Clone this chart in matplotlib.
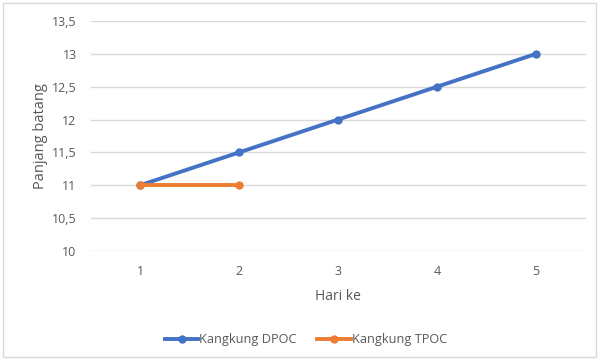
import matplotlib.pyplot as plt
from matplotlib.ticker import FuncFormatter, MultipleLocator
from matplotlib.patches import Rectangle

hari = [1, 2, 3, 4, 5]
dpoc = [11, 11.5, 12, 12.5, 13]
hari_tpoc = [1, 2]
tpoc = [11, 11]

plt.rcParams['font.family'] = ['Open Sans', 'DejaVu Sans']
txt = '#595959'

fig = plt.figure(figsize=(5.99, 3.6), dpi=100)
ax = fig.add_axes([90.5/599, 1 - 251/360, 495/599, 230/360])

ax.plot(hari, dpoc, color='#4472C4', lw=2.8, marker='o', ms=5, label='Kangkung DPOC', zorder=3)
ax.plot(hari_tpoc, tpoc, color='#ED7D31', lw=2.8, marker='o', ms=5, label='Kangkung TPOC', zorder=3)

ax.set_xlim(0.5, 5.5)
ax.set_ylim(10, 13.5)
ax.set_xticks(hari)
ax.yaxis.set_major_locator(MultipleLocator(0.5))
ax.yaxis.set_major_formatter(FuncFormatter(lambda v, p: ('%g' % v).replace('.', ',')))
ax.grid(axis='y', color='#D9D9D9', lw=1)
ax.set_axisbelow(True)
for s in ax.spines.values():
    s.set_visible(False)
ax.tick_params(length=0, colors=txt, labelsize=9, pad=10)

ax.set_xlabel('Hari ke', color=txt, fontsize=10, labelpad=8)
ax.set_ylabel('Panjang batang', color=txt, fontsize=10.5, labelpad=3)

fig.legend(*ax.get_legend_handles_labels(), loc='center', bbox_to_anchor=(306/599, 1 - 340/360),
           ncol=2, frameon=False, fontsize=9.2, labelcolor=txt, handlelength=2.6,
           columnspacing=1.6, handletextpad=0.1)

fig.patches.append(Rectangle((3/599, 3/360), 593/599, 354/360, transform=fig.transFigure,
                             fill=False, edgecolor='#D9D9D9', lw=1))

fig.savefig('out.png', dpi=100)
